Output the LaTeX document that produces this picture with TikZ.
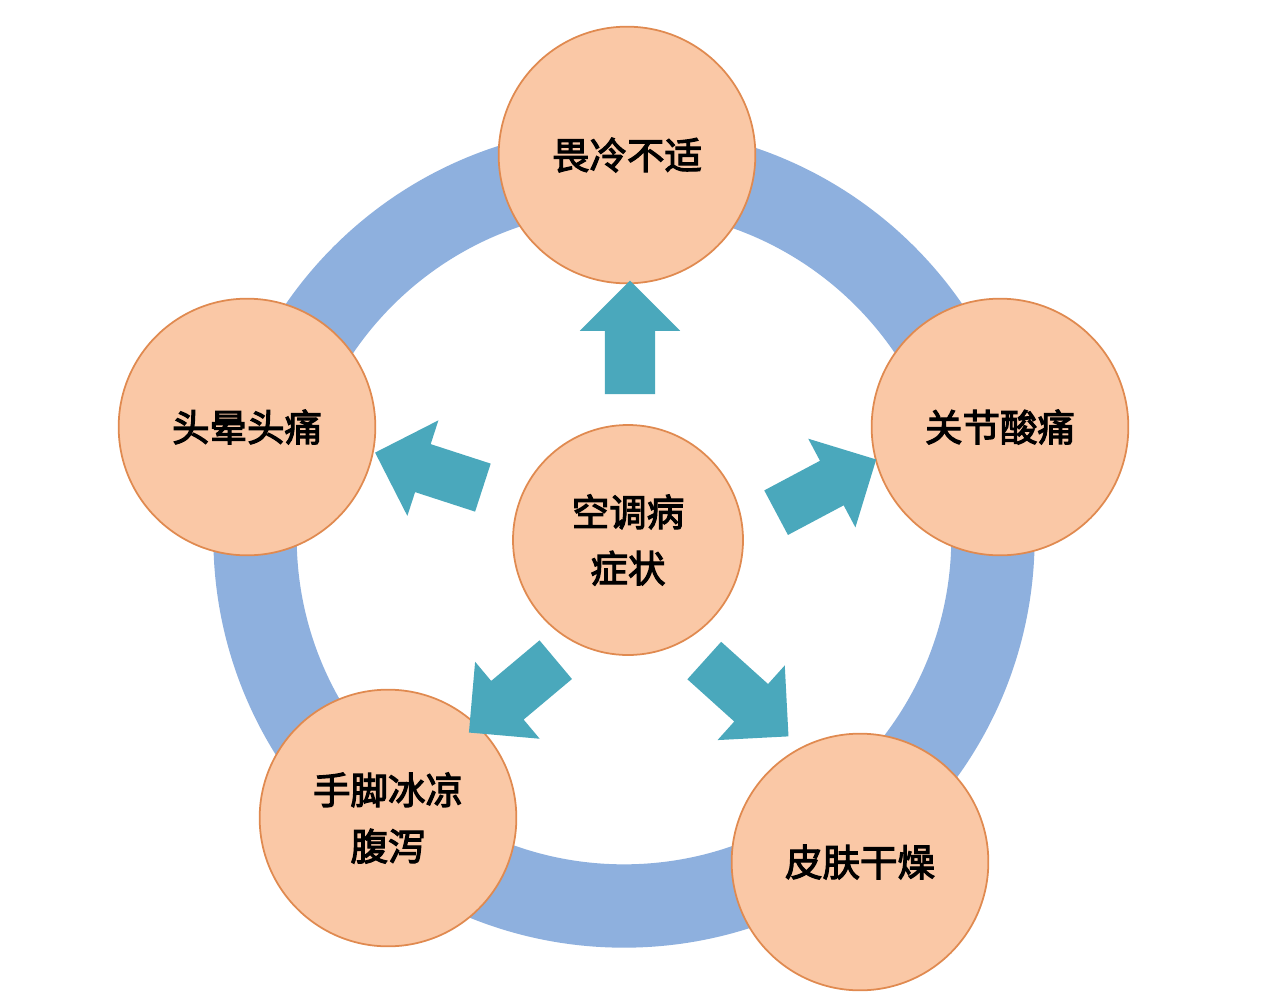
\documentclass[tikz,border=0pt]{standalone}
\usepackage{fontspec}
\newfontfamily\cjk{Noto Sans CJK SC}[AutoFakeBold=3]
\usetikzlibrary{shapes.arrows}
\definecolor{ringblue}{HTML}{8EB0DE}
\definecolor{peach}{HTML}{FAC8A6}
\definecolor{rim}{HTML}{E08A50}
\definecolor{teal}{HTML}{4AA8BC}
\begin{document}
\begin{tikzpicture}[x=0.03cm,y=-0.03cm,font=\cjk\bfseries\fontsize{32}{40}\selectfont]
	\tikzset{symptom/.style={circle,draw=rim,line width=1.5pt,fill=peach,minimum size=7.7cm,align=center,inner sep=0pt}}
	\tikzset{pointer/.style={single arrow,fill=teal,minimum height=3.4cm,minimum width=3cm,single arrow head extend=0.75cm,inner xsep=0pt,inner ysep=0.75cm}}
\useasboundingbox[fill=white] (0,0) rectangle (1280,1002);
% ring
\draw[ringblue,line width=2.5cm] (624,537) circle (369);

\node[symptom] (cold) at (627,155) {畏冷不适};
\node[symptom] (head) at (247,427) {头晕头痛};
\node[symptom] (joint) at (1000,427) {关节酸痛};
\node[symptom] (feet) at (388,818) {手脚冰凉\\[8pt]腹泻};
\node[symptom] (skin) at (860,862) {皮肤干燥};
\node[symptom,minimum size=6.9cm] (core) at (628,540) {空调病\\[8pt]症状};

\node[pointer,rotate=90] (up) at (630,350) {};
\node[pointer,rotate=162] (left) at (441,474) {};
\node[pointer,rotate=28] (right) at (815,492) {};
\node[pointer,rotate=220] (downleft) at (522,688) {};
\node[pointer,rotate=-42] (downright) at (737,690) {};
	\end{tikzpicture}
\end{document}
